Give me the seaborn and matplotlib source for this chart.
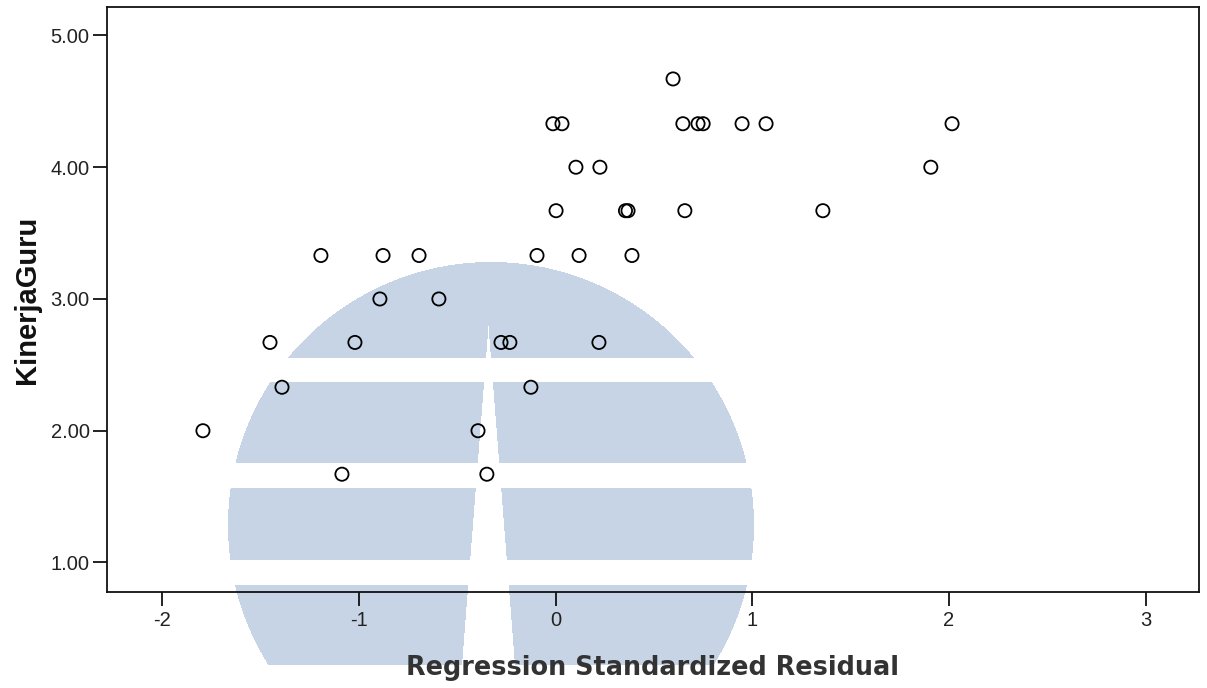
import numpy as np
import pandas as pd
import matplotlib
matplotlib.use("Agg")
import matplotlib.pyplot as plt
import seaborn as sns

# Standardized residuals (x) against teacher performance score (y)
residual = [
    0.597,
    -0.014, 0.032, 0.647, 0.724, 0.750, 0.948, 1.070, 2.016,
    0.103, 0.225, 1.908,
    0.002, 0.355, 0.368, 0.657, 1.359,
    -1.194, -0.878, -0.695, -0.095, 0.119, 0.388,
    -0.894, -0.594,
    -1.453, -1.021, -0.278, -0.233, 0.220,
    -1.392, -0.126,
    -1.794, -0.395,
    -1.087, -0.350,
]
kinerja = [
    4.67,
    4.33, 4.33, 4.33, 4.33, 4.33, 4.33, 4.33, 4.33,
    4.00, 4.00, 4.00,
    3.67, 3.67, 3.67, 3.67, 3.67,
    3.33, 3.33, 3.33, 3.33, 3.33, 3.33,
    3.00, 3.00,
    2.67, 2.67, 2.67, 2.67, 2.67,
    2.33, 2.33,
    2.00, 2.00,
    1.67, 1.67,
]
x_ticks = [-2, -1, 0, 1, 2, 3]
y_ticks = [1.0, 2.0, 3.0, 4.0, 5.0]
y_tick_labels = ["1.00", "2.00", "3.00", "4.00", "5.00"]

df = pd.DataFrame({"Regression Standardized Residual": residual,
                   "KinerjaGuru": kinerja})

sns.set_style("white")
plt.rcParams["font.family"] = ["Liberation Sans", "DejaVu Sans"]

W, H = 1207, 688
fig = plt.figure(figsize=(W / 100, H / 100), dpi=100)
fig.patch.set_facecolor("white")

# Background emblem layer (pixel coordinates of the full figure)
bg = fig.add_axes([0, 0, 1, 1], zorder=0)
bg.set_axis_off()
yy, xx = np.mgrid[0:H, 0:W] + 0.5
cx, cy, r = 491.0, 525.0, 263.0
shape = ((xx - cx) ** 2 + (yy - cy) ** 2) <= r ** 2
shape &= yy <= 665
for y0, y1 in [(358, 382), (463, 488), (560, 585)]:
    shape &= ~((yy >= y0) & (yy <= y1))
slope = 24.0 / 307.0
left_edge = 486.0 - slope * (yy - 358.0)
right_edge = 491.0 + slope * (yy - 358.0)
shape &= ~((yy >= 326) & (xx >= left_edge) & (xx <= right_edge))
rgba = np.ones((H, W, 4))
rgba[..., 3] = 0.0
col = matplotlib.colors.to_rgb("#c6d4e6")
rgba[shape, 0] = col[0]
rgba[shape, 1] = col[1]
rgba[shape, 2] = col[2]
rgba[shape, 3] = 1.0
bg.imshow(rgba, extent=[0, W, H, 0], interpolation="bilinear", aspect="auto")
bg.set_xlim(0, W)
bg.set_ylim(H, 0)

# Main scatter axes
ax = fig.add_axes([107 / W, 1 - 592 / H, (1199 - 107) / W, (592 - 7) / H], zorder=1)
ax.set_facecolor("none")
sns.scatterplot(data=df, x="Regression Standardized Residual", y="KinerjaGuru",
                ax=ax, marker="o", s=90, facecolors="none",
                edgecolor="black", linewidth=1.3, zorder=3)

ax.set_xlim(-2.282, 3.272)
ax.set_ylim(0.776, 5.216)
ax.set_xticks(x_ticks)
ax.set_xticklabels([str(t) for t in x_ticks])
ax.set_yticks(y_ticks)
ax.set_yticklabels(y_tick_labels)

for sp in ax.spines.values():
    sp.set_visible(True)
    sp.set_color("#111111")
    sp.set_linewidth(1.3)

ax.tick_params(axis="both", direction="out", length=10, width=1.3,
               bottom=True, left=True, top=False, right=False,
               color="#111111", labelcolor="#222222", labelsize=14.5)
ax.tick_params(axis="y", pad=2.5)
ax.tick_params(axis="x", pad=4)

ax.set_xlabel("Regression Standardized Residual", family="DejaVu Sans",
              fontweight="bold", fontsize=18.4, color="#333333")
ax.xaxis.set_label_coords(0.5, -0.108)
ax.set_ylabel("KinerjaGuru", fontweight="bold", fontsize=21, color="#111111")
ax.yaxis.set_label_coords(-0.0604, 0.5)

fig.savefig("out.png", dpi=100)
